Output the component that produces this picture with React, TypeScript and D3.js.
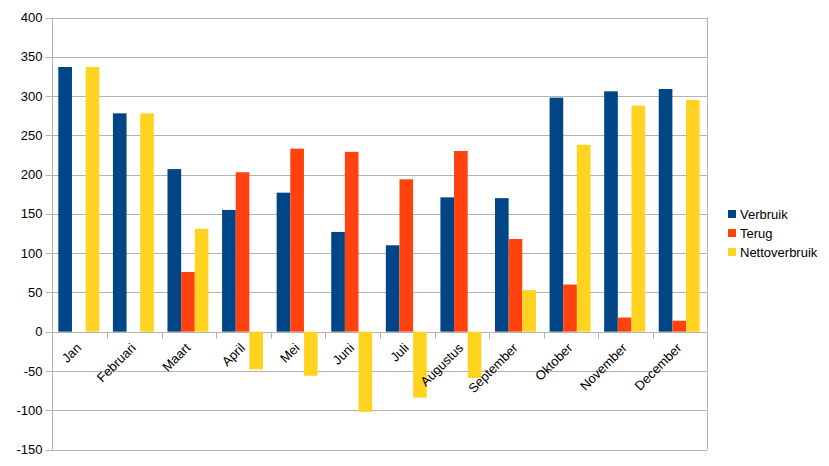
import React, { useEffect, useRef } from 'react';
import * as d3 from 'd3';

const months = ['Jan', 'Februari', 'Maart', 'April', 'Mei', 'Juni', 'Juli', 'Augustus', 'September', 'Oktober', 'November', 'December'];
const verbruik = [337, 278, 207, 155, 177, 127, 110, 171, 170, 298, 306, 309];
const terug = [0, 0, 76, 203, 233, 229, 194, 230, 118, 60, 18, 14];
const netto = [337, 278, 131, -48, -56, -102, -84, -59, 53, 238, 288, 295];
const seriesNames = ['Verbruik', 'Terug', 'Nettoverbruik'];
const colors = ['#004586', '#ff420e', '#ffd320'];
const yTicks = [-150, -100, -50, 0, 50, 100, 150, 200, 250, 300, 350, 400];

const App = () => {
  const svgRef = useRef<SVGSVGElement>(null);

  useEffect(() => {
    const svg = d3.select(svgRef.current);
    svg.selectAll('*').remove();
    const font = '"Liberation Sans", Arial, sans-serif';

    const left = 52.5, right = 707.5, top = 17.5, bottom = 449.5;

    const x = d3.scaleBand<string>().domain(months).range([left, right]);
    const y = d3.scaleLinear().domain([-150, 400]).range([bottom, top]);
    // bars sit slightly left of band centre, as in the reference
    const inner = d3.scaleBand<number>().domain([0, 1, 2]).range([-1, x.bandwidth() - 1]).paddingOuter(0.5).paddingInner(0);

    // gridlines
    svg.append('g')
      .selectAll('line')
      .data(yTicks)
      .enter().append('line')
      .attr('x1', left - 7)
      .attr('x2', right)
      .attr('y1', d => Math.round(y(d)) + 0.5)
      .attr('y2', d => Math.round(y(d)) + 0.5)
      .attr('stroke', '#b3b3b3')
      .attr('stroke-width', 1);

    // frame right + left axis
    svg.append('line')
      .attr('x1', right).attr('x2', right)
      .attr('y1', y(400)).attr('y2', y(-150))
      .attr('stroke', '#b3b3b3');
    svg.append('line')
      .attr('x1', left).attr('x2', left)
      .attr('y1', y(400)).attr('y2', y(-150))
      .attr('stroke', '#b3b3b3');

    // y labels
    svg.append('g')
      .selectAll('text')
      .data(yTicks)
      .enter().append('text')
      .attr('x', left - 10)
      .attr('y', d => y(d))
      .attr('dy', '0.35em')
      .attr('text-anchor', 'end')
      .style('font-family', font)
      .style('font-size', '13px')
      .attr('fill', '#000')
      .text(d => d);

    // bars
    const series = [verbruik, terug, netto];
    series.forEach((vals, si) => {
      svg.append('g')
        .selectAll('rect')
        .data(vals)
        .enter().append('rect')
        .attr('x', (d, i) => (x(months[i]) as number) + (inner(si) as number))
        .attr('width', inner.bandwidth())
        .attr('y', d => y(Math.max(0, d)))
        .attr('height', d => Math.abs(y(d) - y(0)))
        .attr('fill', colors[si]);
    });

    // category ticks
    const zeroY = Math.round(y(0)) + 0.5;
    svg.append('g')
      .selectAll('line')
      .data(months.slice(1))
      .enter().append('line')
      .attr('x1', d => Math.round(x(d) as number) + 0.5)
      .attr('x2', d => Math.round(x(d) as number) + 0.5)
      .attr('y1', zeroY)
      .attr('y2', zeroY + 6)
      .attr('stroke', '#b3b3b3');

    // category labels
    svg.append('g')
      .selectAll('text')
      .data(months)
      .enter().append('text')
      .attr('transform', d => `translate(${(x(d) as number) + x.bandwidth() / 2 - 1},${zeroY + 13}) rotate(-45)`)
      .attr('text-anchor', 'end')
      .attr('dy', '0.35em')
      .style('font-family', font)
      .style('font-size', '13px')
      .attr('fill', '#000')
      .text(d => d);

    // legend
    const legend = svg.append('g')
      .selectAll('g')
      .data(seriesNames)
      .enter().append('g')
      .attr('transform', (d, i) => `translate(728,${214 + i * 19})`);
    legend.append('rect')
      .attr('x', 0)
      .attr('y', -4)
      .attr('width', 8)
      .attr('height', 8)
      .attr('fill', (d, i) => colors[i]);
    legend.append('text')
      .attr('x', 12)
      .attr('y', 0)
      .attr('dy', '0.35em')
      .style('font-family', font)
      .style('font-size', '13px')
      .attr('fill', '#000')
      .text(d => d);
  }, []);

  return <svg ref={svgRef} width={829} height={466} style={{ position: 'absolute', left: 0, top: 0, background: '#fff' }}></svg>;
};

export default App;
